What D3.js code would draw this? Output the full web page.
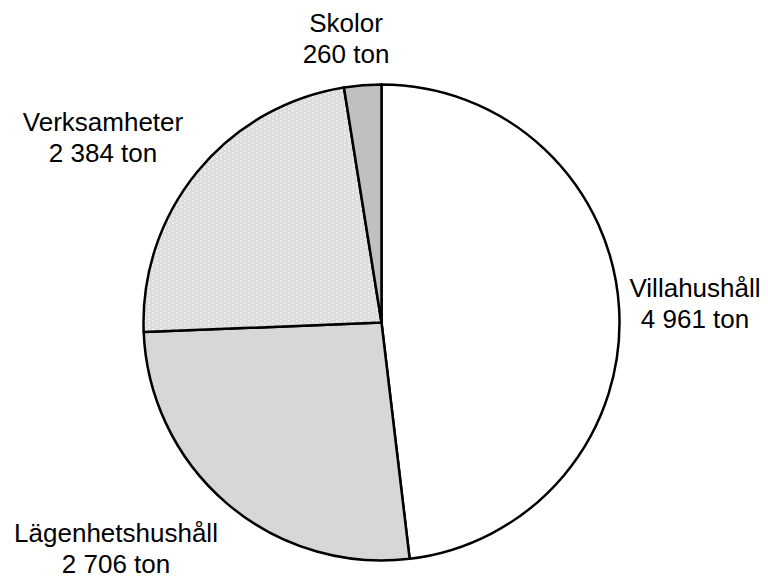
<!DOCTYPE html>
<html>
<head>
<meta charset="utf-8">
<script src="https://cdn.jsdelivr.net/npm/d3@7"></script>
<style>
  html, body { margin: 0; padding: 0; background: #fff; }
  svg { display: block; }
  text { font-family: "Liberation Sans", Arial, sans-serif; fill: #000; }
</style>
</head>
<body>
<svg id="chart" width="768" height="581"></svg>
<script>
// Waste amounts per source (ton)
const categories = ["Villahushåll", "Lägenhetshushåll", "Verksamheter", "Skolor"];
const values = [4961, 2706, 2384, 260];
const valueLabels = ["4 961 ton", "2 706 ton", "2 384 ton", "260 ton"];

const W = 768, H = 581;
const cx = 381.5, cy = 322.5, R = 238;

const svg = d3.select("#chart");
const defs = svg.append("defs");

// Small pixel patterns used as slice fills
function pixelPattern(id, w, h, cells) {
  const p = defs.append("pattern")
    .attr("id", id).attr("patternUnits", "userSpaceOnUse")
    .attr("width", w).attr("height", h);
  p.append("rect").attr("width", w).attr("height", h).attr("fill", "#fff");
  cells.forEach(([x, y, c]) => p.append("rect")
    .attr("x", x).attr("y", y).attr("width", 1).attr("height", 1)
    .attr("fill", c).attr("shape-rendering", "crispEdges"));
  return `url(#${id})`;
}
// horizontal hairlines, breaks staggered from row to row
const lineCells = [];
for (let x = 0; x < 8; x++) {
  if (x !== 7) lineCells.push([x, 0, "#b8b8b8"]);
  if (x !== 3) lineCells.push([x, 2, "#b8b8b8"]);
}
const lineFill = pixelPattern("lines", 8, 4, lineCells);
// fine dot grid
const dotFill = pixelPattern("dots", 2, 2, [[0,0,"#8c8c8c"],[1,1,"#d0d0d0"]]);

const fills = ["#ffffff", dotFill, lineFill, "#c0c0c0"];

const pie = d3.pie().sort(null).value(d => d)(values);
const arc = d3.arc().innerRadius(0).outerRadius(R);

const g = svg.append("g").attr("transform", `translate(${cx},${cy})`);
g.selectAll("path.slice")
  .data(pie)
  .join("path")
  .attr("class", "slice")
  .attr("d", arc)
  .attr("fill", (d, i) => fills[i])
  .attr("stroke", "#000")
  .attr("stroke-width", 2.5)
  .attr("stroke-linejoin", "round");

// Label blocks: centre x and first baseline for each slice
const labelAnchors = [
  [695, 297],
  [116, 542],
  [103, 131],
  [346, 32]
];
const lineGap = 31;

const labels = svg.selectAll("g.label")
  .data(categories)
  .join("g")
  .attr("class", "label")
  .attr("transform", (d, i) => `translate(${labelAnchors[i][0]},${labelAnchors[i][1]})`);
labels.append("text")
  .attr("text-anchor", "middle")
  .attr("font-size", 26)
  .text(d => d);
labels.append("text")
  .attr("text-anchor", "middle")
  .attr("font-size", 26)
  .attr("y", lineGap)
  .text((d, i) => valueLabels[i]);
</script>
</body>
</html>
